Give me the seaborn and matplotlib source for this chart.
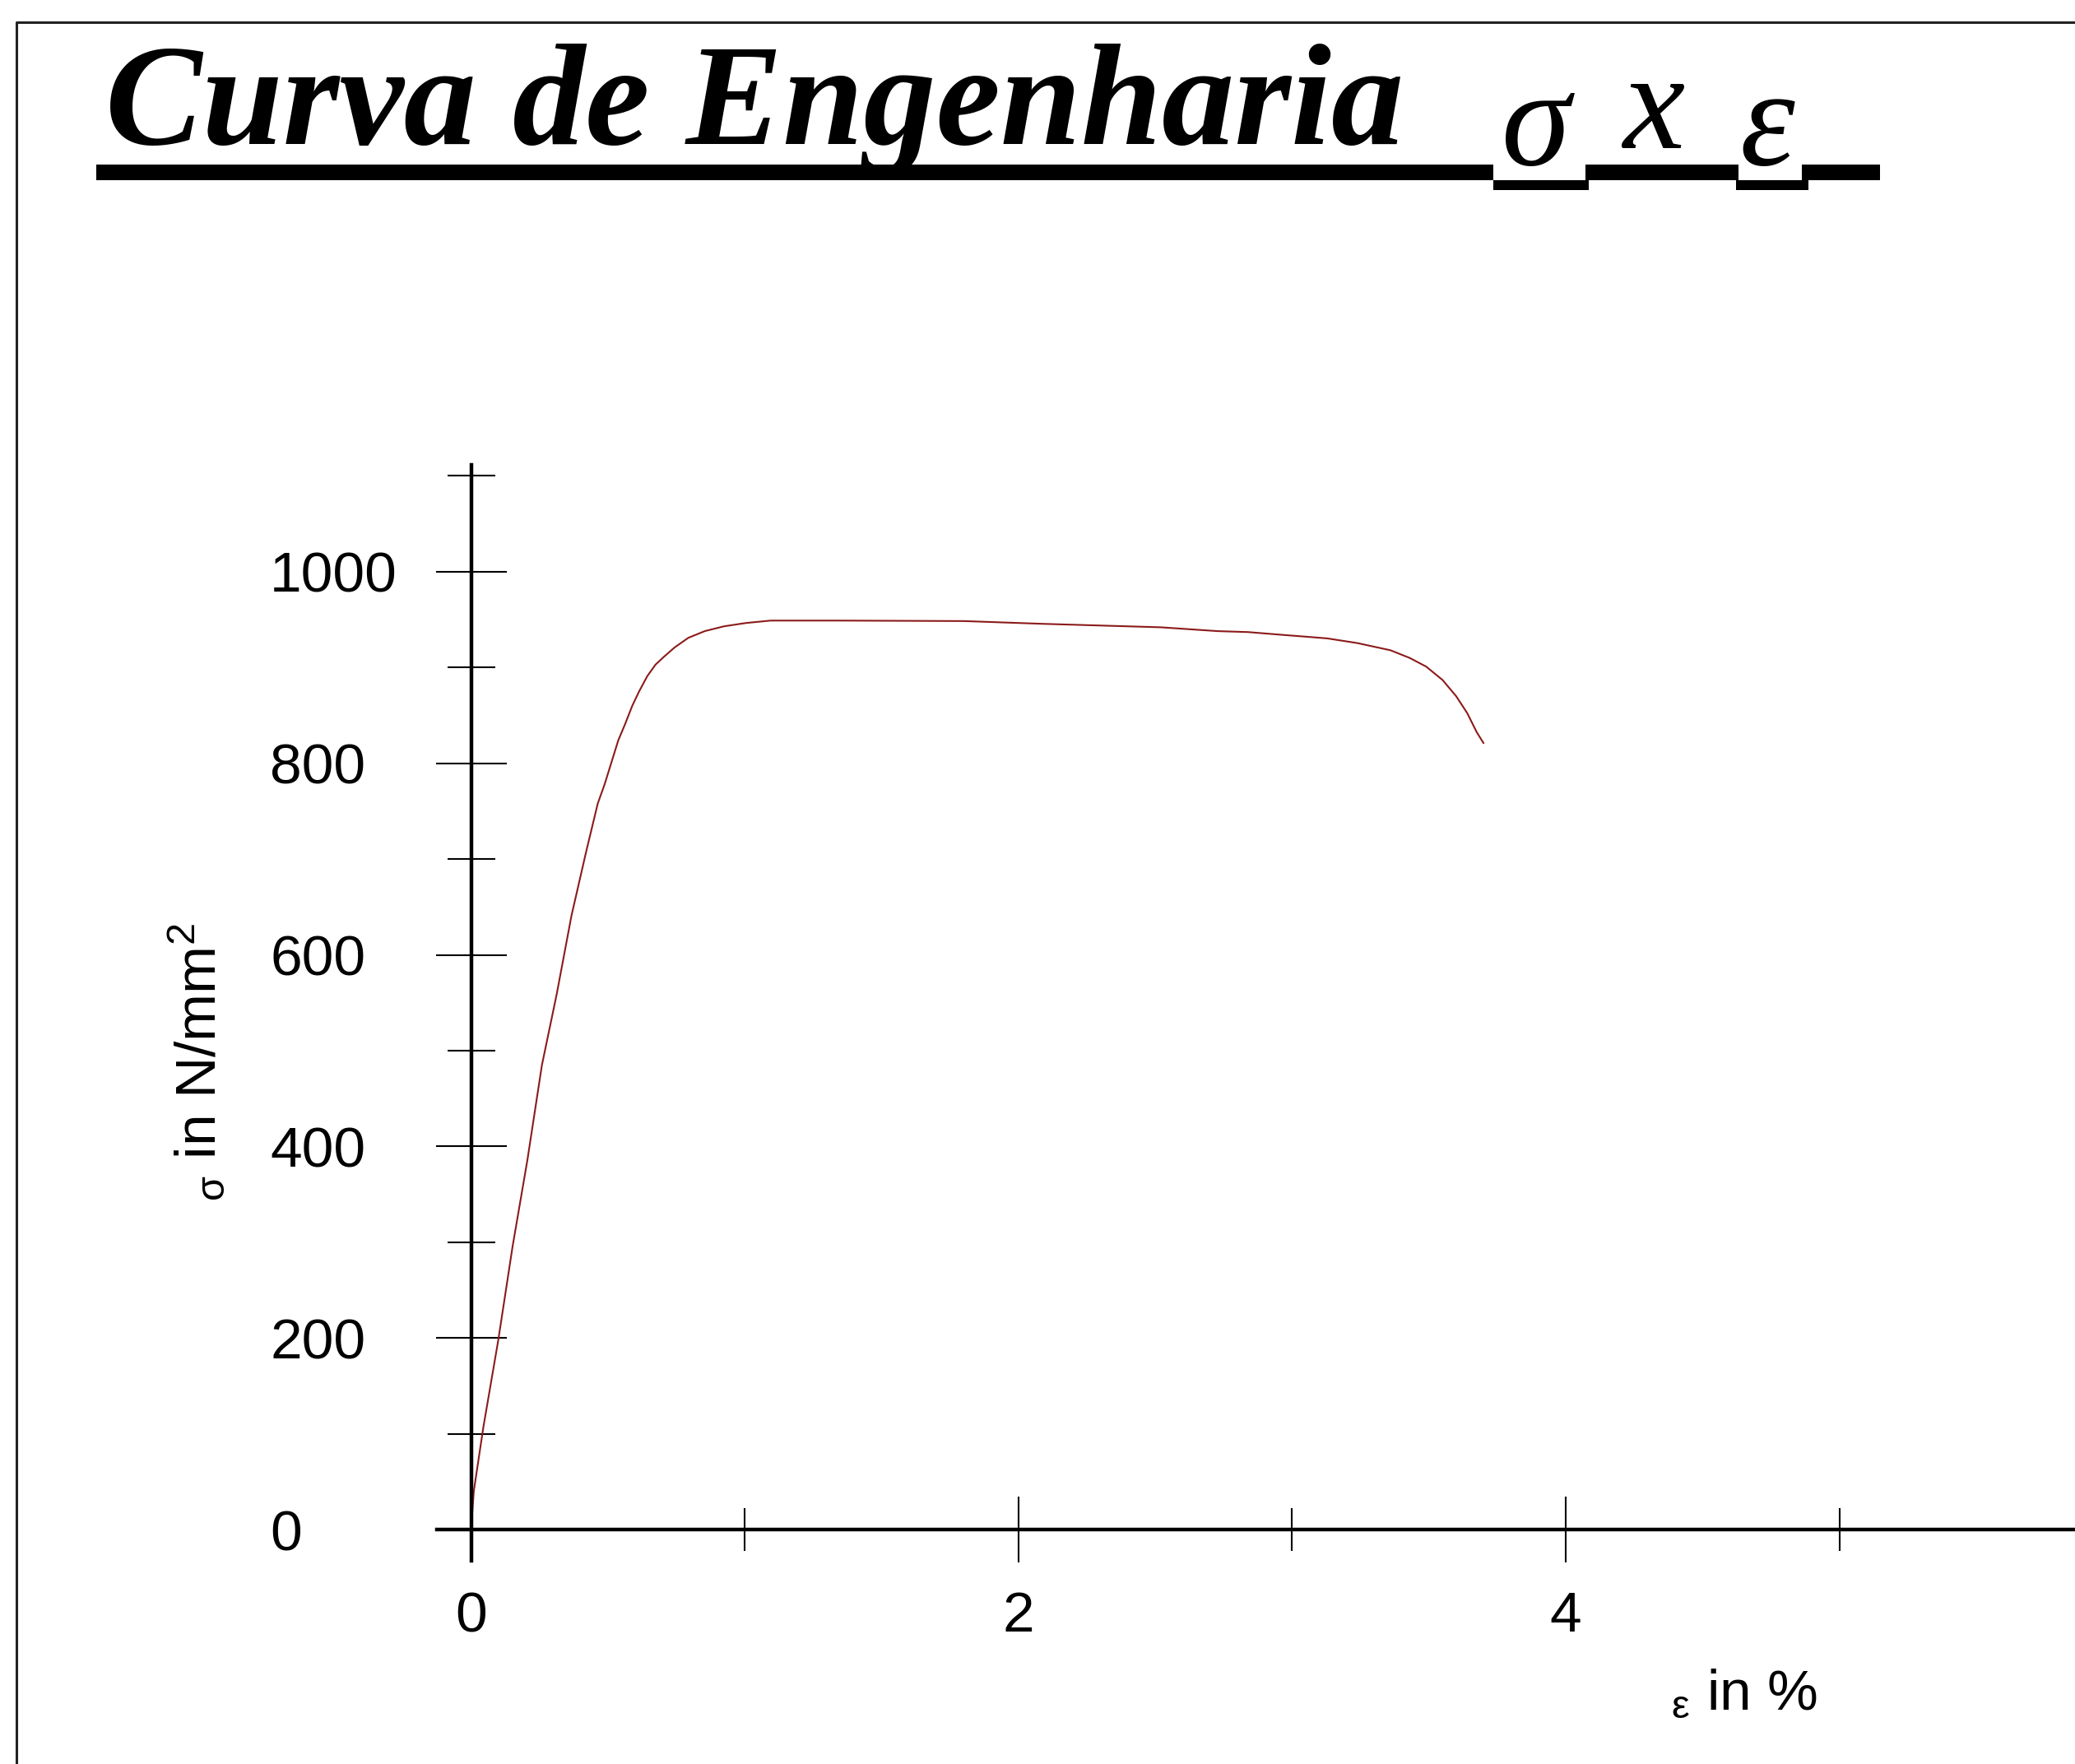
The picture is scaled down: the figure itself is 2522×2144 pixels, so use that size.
import matplotlib
matplotlib.use("Agg")
import matplotlib.pyplot as plt
import seaborn as sns
from matplotlib.patches import Rectangle
from matplotlib.lines import Line2D

# engineering stress-strain curve
strain = [0.000, 0.010, 0.045, 0.099, 0.152, 0.206, 0.259, 0.313, 0.367, 0.420,
          0.463, 0.488, 0.513, 0.538, 0.563, 0.589, 0.614, 0.644, 0.674, 0.704,
          0.744, 0.794, 0.854, 0.924, 1.005, 1.095, 1.345, 1.800, 2.090, 2.520,
          2.728, 2.839, 2.969, 3.059, 3.129, 3.239, 3.360, 3.430, 3.490, 3.550,
          3.600, 3.640, 3.675, 3.700]
stress = [0, 40, 107, 197, 296, 386, 485, 559, 641, 707,
          758, 778, 801, 824, 841, 860, 875, 891, 903, 911,
          921, 931, 938, 943, 946.5, 949, 949, 948.5, 945.6, 942,
          938, 937, 934, 932, 930.4, 925.5, 918, 910, 901, 887,
          870, 852.5, 832.5, 821]

x_major = [0, 2, 4]
x_minor = [1, 3, 5]
y_major = [0, 200, 400, 600, 800, 1000]
y_minor = [100, 300, 500, 700, 900, 1100]

title_text = "Curva de Engenharia"
x_label = r"$\mathregular{_{\varepsilon}}$ in %"
y_label = r"$\mathregular{_{σ}}$ in N/mm$\mathregular{^2}$"

sns.set_style("white")
plt.rcParams["font.family"] = ["Liberation Sans", "DejaVu Sans"]
plt.rcParams["mathtext.fontset"] = "custom"
plt.rcParams["mathtext.rm"] = "Liberation Sans"
plt.rcParams["mathtext.it"] = "Liberation Sans"
plt.rcParams["text.color"] = "black"
plt.rcParams["axes.labelcolor"] = "black"

W, H = 2522, 2144
fig = plt.figure(figsize=(W / 100, H / 100), dpi=100)
ax = fig.add_axes([0.2104, 0.1150, 0.7897, 0.6217])

sns.lineplot(x=strain, y=stress, ax=ax, color="#8b1a1a", linewidth=1.5,
             sort=False, estimator=None)

ax.set_xlim(-0.126, 5.862)
ax.set_ylim(-33, 1112)
for side in ["top", "right"]:
    ax.spines[side].set_visible(False)
ax.spines["left"].set_position(("data", 0))
ax.spines["bottom"].set_position(("data", 0))
for side in ["left", "bottom"]:
    ax.spines[side].set_linewidth(3.2)
    ax.spines[side].set_color("black")

ax.set_xticks(x_major)
ax.set_xticks(x_minor, minor=True)
ax.set_yticks(y_major)
ax.set_yticks(y_minor, minor=True)
ax.set_xticklabels([str(v) for v in x_major])
ax.set_yticklabels([str(v) for v in y_major])

ax.tick_params(axis="x", which="both", bottom=True)
ax.tick_params(axis="y", which="both", left=True)
ax.tick_params(axis="x", which="major", direction="inout", length=57, width=1.5,
               pad=25, labelsize=50, colors="black")
ax.tick_params(axis="x", which="minor", direction="inout", length=38, width=1.5,
               colors="black")
ax.tick_params(axis="y", which="major", direction="inout", length=62, width=1.5,
               pad=145, labelsize=50, colors="black")
ax.tick_params(axis="y", which="minor", direction="inout", length=42, width=1.5,
               colors="black")
plt.setp(ax.get_yticklabels(), ha="left")

ax.set_xlabel(x_label, fontsize=50)
ax.xaxis.set_label_coords(0.798, -0.098)
ax.set_ylabel(y_label, fontsize=50)
ax.yaxis.set_label_coords(-0.128, 0.455)

# title in bold italic serif with the underline bar
fig.text(128 / W, 1 - 175 / H, title_text, fontsize=127, family="Liberation Serif",
         weight="bold", style="italic", va="baseline", ha="left", color="black")
fig.text(1825 / W, 1 - 200 / H, "σ", fontsize=122, family="Liberation Serif",
         style="italic", va="baseline", ha="left", color="black")
fig.text(1972 / W, 1 - 180 / H, "x", fontsize=122, family="Liberation Serif",
         style="italic", va="baseline", ha="left", color="black")
fig.text(2114 / W, 1 - 200 / H, "ε", fontsize=122, family="Liberation Serif",
         style="italic", va="baseline", ha="left", color="black")

bars = [(117, 1815, 200, 219), (1815, 1931, 219, 231), (1927, 2113, 200, 219),
        (2110, 2198, 219, 231), (2190, 2285, 200, 219)]
for x0, x1, y0, y1 in bars:
    fig.patches.append(Rectangle((x0 / W, 1 - y1 / H), (x1 - x0) / W, (y1 - y0) / H,
                                 transform=fig.transFigure, color="black", lw=0))

# page frame on the left and top
fig.add_artist(Line2D([20 / W, 20 / W, 1], [0, 1 - 27 / H, 1 - 27 / H],
                      transform=fig.transFigure, color="#222222", lw=2.2))

fig.savefig("out.png", dpi=100)
